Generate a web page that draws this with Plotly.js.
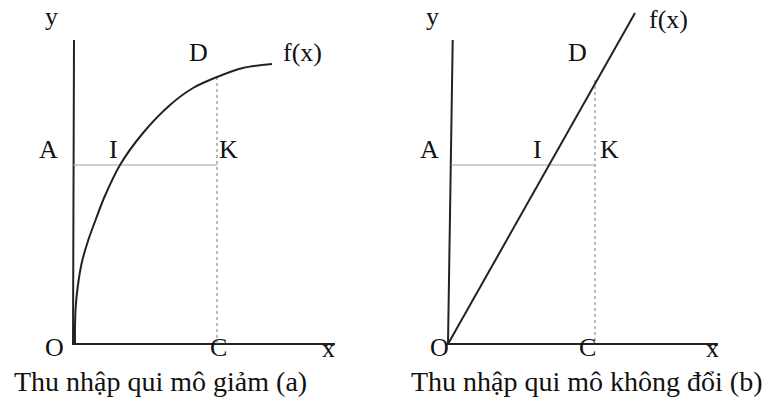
<!DOCTYPE html>
<html>
<head>
<meta charset="utf-8">
<script src="https://cdn.plot.ly/plotly-3.0.1.min.js"></script>
<style>html,body{margin:0;padding:0;background:#fff;}#chart{width:770px;height:399px;}</style>
</head>
<body>
<div id="chart"></div>
<script>
// ---- Panel (a): decreasing returns to scale ----
var curveAX = [0.2, 0.2, 0.27, 0.47, 0.87, 1.53, 2.37, 3.1, 4.7, 7.0, 9.7, 12.0, 14.4, 17.0, 19.9];
var curveAY = [0.0, 1.7, 3.7, 5.7, 8.1, 10.4, 12.7, 14.6, 17.9, 21.1, 23.9, 25.6, 26.7, 27.6, 28.0];
var axisAX = [0.1, 0.0, 26.2];
var axisAY = [30.4, 0.0, 0.0];
var levelA = 17.9;      // height of A, I, K
var cA = 14.4;          // x of C, K
var dA = 26.7;          // height of D on the curve
var labelsA = ['y', 'D', 'f(x)', 'A', 'I', 'K', 'O', 'C', 'x'];
var labelAX = [-2.2, 12.5, 22.9, -2.5, 4.0, 15.5, -1.9, 14.5, 25.5];
var labelAY = [32.8, 29.2, 29.2, 19.5, 19.5, 19.5, -0.3, -0.3, -0.4];
var captionA = 'Thu nhập qui mô giảm (a)';

// ---- Panel (b): constant returns to scale ----
var lineBX = [0.0, 18.7];
var lineBY = [0.0, 33.1];
var axisBX = [0.47, 0.0, 27.0];
var axisBY = [30.4, 0.0, 0.0];
var levelB = 17.9;
var levelBStart = 0.3;
var cB = 14.7;
var dB = 26.4;
var labelsB = ['y', 'f(x)', 'D', 'A', 'I', 'K', 'O', 'C', 'x'];
var labelBX = [-1.6, 22.0, 12.9, -1.9, 8.9, 16.1, -0.9, 13.9, 26.4];
var labelBY = [32.8, 32.5, 29.2, 19.5, 19.5, 19.5, -0.3, -0.3, -0.4];
var captionB = 'Thu nhập qui mô không đổi (b)';

var FONT = 'Liberation Serif, Times New Roman, serif';
var dark = '#222';

var traces = [
  // panel a
  {x: axisAX, y: axisAY, mode: 'lines', line: {color: dark, width: 2}, xaxis: 'x', yaxis: 'y', hoverinfo: 'skip'},
  {x: [0, cA], y: [levelA, levelA], mode: 'lines', line: {color: '#a0a0a0', width: 1}, xaxis: 'x', yaxis: 'y', hoverinfo: 'skip'},
  {x: [cA, cA], y: [dA, 0], mode: 'lines', line: {color: '#777', width: 1, dash: 'dot'}, xaxis: 'x', yaxis: 'y', hoverinfo: 'skip'},
  {x: curveAX, y: curveAY, mode: 'lines', line: {color: dark, width: 2, shape: 'spline', smoothing: 0.8}, xaxis: 'x', yaxis: 'y', hoverinfo: 'skip'},
  // panel b
  {x: axisBX, y: axisBY, mode: 'lines', line: {color: dark, width: 2}, xaxis: 'x2', yaxis: 'y2', hoverinfo: 'skip'},
  {x: [levelBStart, cB], y: [levelB, levelB], mode: 'lines', line: {color: '#a0a0a0', width: 1}, xaxis: 'x2', yaxis: 'y2', hoverinfo: 'skip'},
  {x: [cB, cB], y: [dB, 0], mode: 'lines', line: {color: '#777', width: 1, dash: 'dot'}, xaxis: 'x2', yaxis: 'y2', hoverinfo: 'skip'},
  {x: lineBX, y: lineBY, mode: 'lines', line: {color: dark, width: 2}, xaxis: 'x2', yaxis: 'y2', hoverinfo: 'skip'}
];

var annotations = [];
labelsA.forEach(function (t, i) {
  annotations.push({text: t, x: labelAX[i], y: labelAY[i], xref: 'x', yref: 'y', showarrow: false,
    xanchor: 'center', yanchor: 'middle', font: {family: FONT, size: 26, color: '#111'}});
});
labelsB.forEach(function (t, i) {
  annotations.push({text: t, x: labelBX[i], y: labelBY[i], xref: 'x2', yref: 'y2', showarrow: false,
    xanchor: 'center', yanchor: 'middle', font: {family: FONT, size: 26, color: '#111'}});
});
annotations.push({text: captionA, x: 8.7, y: -3.7, xref: 'x', yref: 'y', showarrow: false,
  xanchor: 'center', yanchor: 'middle', font: {family: FONT, size: 28, color: '#111'}});
annotations.push({text: captionB, x: 13.9, y: -3.7, xref: 'x2', yref: 'y2', showarrow: false,
  xanchor: 'center', yanchor: 'middle', font: {family: FONT, size: 28, color: '#111'}});

var hidden = {visible: false, showgrid: false, zeroline: false, fixedrange: true};
var layout = {
  width: 770, height: 399,
  margin: {l: 0, r: 0, t: 0, b: 0, pad: 0},
  paper_bgcolor: '#fff', plot_bgcolor: '#fff',
  showlegend: false,
  xaxis: Object.assign({domain: [0, 0.5], range: [-7.3, 31.2]}, hidden),
  yaxis: Object.assign({domain: [0, 1], range: [-5.5, 34.4]}, hidden),
  xaxis2: Object.assign({domain: [0.5, 1], range: [-6.3, 32.2], anchor: 'y2'}, hidden),
  yaxis2: Object.assign({domain: [0, 1], range: [-5.5, 34.4], anchor: 'x2'}, hidden),
  annotations: annotations
};

Plotly.newPlot('chart', traces, layout, {displayModeBar: false, staticPlot: true});
</script>
</body>
</html>
